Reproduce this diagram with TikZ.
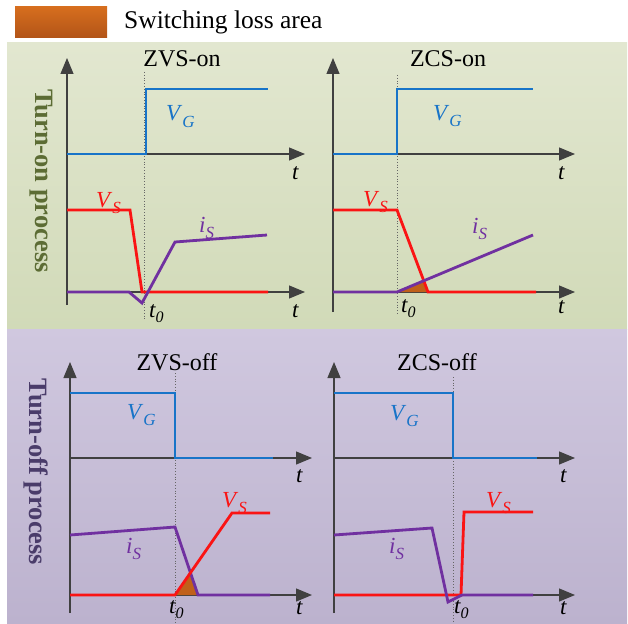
\documentclass[tikz,border=0pt]{standalone}
\usepackage{fontspec}
\setmainfont{Liberation Serif}
\usetikzlibrary{arrows.meta}
\definecolor{sigblue}{RGB}{24,116,200}
\definecolor{sigred}{RGB}{250,20,20}
\definecolor{sigpurple}{RGB}{112,48,160}
\definecolor{axisgray}{RGB}{64,64,64}
\definecolor{lossorange}{RGB}{192,96,26}
\definecolor{greentop}{RGB}{226,231,208}
\definecolor{greenbot}{RGB}{209,218,184}
\definecolor{purptop}{RGB}{208,200,223}
\definecolor{purpbot}{RGB}{188,178,206}
\definecolor{legtop}{RGB}{214,110,30}
\definecolor{legbot}{RGB}{178,84,24}
\definecolor{olivetext}{RGB}{92,108,52}
\definecolor{purptext}{RGB}{74,60,106}
\newcommand\sigl[2]{\textit{#1}\raisebox{-0.3em}{\fontsize{17}{17}\selectfont\textit{#2}}}
\newcommand\tzero{t\raisebox{-0.25em}{\fontsize{16}{16}\selectfont 0}}
\tikzset{
  axisline/.style={draw=axisgray, line width=1.2pt, -{Triangle[length=16pt,width=13pt]}},
  guide/.style={draw=black!60, dotted, line width=0.8pt},
  vgline/.style={draw=sigblue, line width=2.8pt},
  vsline/.style={draw=sigred, line width=2.8pt},
  isline/.style={draw=sigpurple, line width=2.8pt},
  loss/.style={fill=lossorange},
  lab/.style={font=\fontsize{23}{26}\selectfont, inner sep=0pt, anchor=base west},
  tlab/.style={font=\fontsize{23}{26}\selectfont\itshape, inner sep=0pt, anchor=base west},
  ttl/.style={font=\fontsize{24}{28}\selectfont, inner sep=0pt, anchor=base},
  side/.style={font=\fontsize{26.5}{30}\selectfont\bfseries, inner sep=0pt, rotate=-90, anchor=center},
}
\begin{document}
\begin{tikzpicture}[x=1pt,y=-1pt]
\useasboundingbox (0,0) rectangle (628,623);
% backgrounds
\shade[top color=greentop, bottom color=greenbot] (7,43) rectangle (627,329);
\shade[top color=purptop, bottom color=purpbot] (7,329) rectangle (627,623);
% legend
\shade[top color=legtop, bottom color=legbot] (15,7) rectangle (107,38);
\node[font=\fontsize{25.5}{28}\selectfont, inner sep=0pt, anchor=base west] (legtxt) at (124,29) {Switching loss area};
% side labels
\node[side, text=olivetext] (sideon) at (41,181) {Turn-on process};
\node[side, text=purptext] (sideoff) at (36,472) {Turn-off process};

% ================= Panel 1: ZVS-on
\coordinate (a1b) at (67,305); \coordinate (a1t) at (67,58);
\coordinate (u1s) at (67,154); \coordinate (u1e) at (305,154);
\coordinate (l1s) at (67,292); \coordinate (l1e) at (305,292);
\coordinate (d1t) at (144,72); \coordinate (d1b) at (144,320);
\draw[axisline] (a1b) -- (a1t);
\draw[axisline] (u1s) -- (u1e);
\draw[axisline] (l1s) -- (l1e);
\draw[guide] (d1t) -- (d1b);
\draw[vgline] (u1s) -- (146,154) -- (146,89) -- (268,89);
\draw[vsline] (67,210) -- (130,210) -- (142,292) -- (268,292);
\draw[isline] (l1s) -- (129,292) -- (142,303) -- (175,242) -- (267,235);
\node[ttl] (t1) at (182,67) {ZVS-on};
\node[lab, text=sigblue] (vg1) at (166,121) {\sigl{V}{G}};
\node[lab, text=sigred] (vs1) at (96,207) {\sigl{V}{S}};
\node[lab, text=sigpurple] (is1) at (199,232) {\sigl{i}{S}};
\node[tlab] (tu1) at (292,179) {t};
\node[tlab] (tl1) at (292,317) {t};
\node[tlab] (tz1) at (149,317) {\tzero};

% ================= Panel 2: ZCS-on
\coordinate (a2b) at (333,312); \coordinate (a2t) at (333,58);
\coordinate (u2s) at (333,154); \coordinate (u2e) at (575,154);
\coordinate (l2s) at (333,292); \coordinate (l2e) at (575,292);
\coordinate (d2t) at (397,75); \coordinate (d2b) at (397,315);
\coordinate (is2a) at (397,292); \coordinate (is2b) at (533,235);
\coordinate (vs2a) at (397,210); \coordinate (vs2b) at (428,292);
\draw[axisline] (a2b) -- (a2t);
\draw[axisline] (u2s) -- (u2e);
\draw[axisline] (l2s) -- (l2e);
\draw[guide] (d2t) -- (d2b);
\fill[loss] (is2a) -- (intersection of is2a--is2b and vs2a--vs2b) -- (vs2b) -- cycle;
\draw[vgline] (u2s) -- (397,154) -- (397,89) -- (533,89);
\draw[vsline] (333,210) -- (vs2a) -- (vs2b) -- (536,292);
\draw[isline] (l2s) -- (is2a) -- (is2b);
\node[ttl] (t2) at (448,67) {ZCS-on};
\node[lab, text=sigblue] (vg2) at (433,120) {\sigl{V}{G}};
\node[lab, text=sigred] (vs2) at (363,206) {\sigl{V}{S}};
\node[lab, text=sigpurple] (is2) at (472,233) {\sigl{i}{S}};
\node[tlab] (tu2) at (558,179) {t};
\node[tlab] (tl2) at (558,313) {t};
\node[tlab] (tz2) at (401,312) {\tzero};

% ================= Panel 3: ZVS-off
\coordinate (a3b) at (70,613); \coordinate (a3t) at (70,362);
\coordinate (u3s) at (70,458); \coordinate (u3e) at (312,458);
\coordinate (l3s) at (70,595); \coordinate (l3e) at (312,595);
\coordinate (d3t) at (175,373); \coordinate (d3b) at (175,623);
\coordinate (is3a) at (175,527); \coordinate (is3b) at (198,595);
\coordinate (vs3a) at (175,595); \coordinate (vs3b) at (232,513);
\draw[axisline] (a3b) -- (a3t);
\draw[axisline] (u3s) -- (u3e);
\draw[axisline] (l3s) -- (l3e);
\draw[guide] (d3t) -- (d3b);
\fill[loss] (vs3a) -- (intersection of is3a--is3b and vs3a--vs3b) -- (is3b) -- cycle;
\draw[vgline] (70,393) -- (175,393) -- (175,458) -- (273,458);
\draw[isline] (70,535) -- (is3a) -- (is3b) -- (270,595);
\draw[vsline] (l3s) -- (vs3a) -- (vs3b) -- (270,513);
\node[ttl] (t3) at (177,370) {ZVS-off};
\node[lab, text=sigblue] (vg3) at (127,419) {\sigl{V}{G}};
\node[lab, text=sigred] (vs3) at (222,507) {\sigl{V}{S}};
\node[lab, text=sigpurple] (is3) at (126,553) {\sigl{i}{S}};
\node[tlab] (tu3) at (296,482) {t};
\node[tlab] (tl3) at (296,614) {t};
\node[tlab] (tz3) at (169,613) {\tzero};

% ================= Panel 4: ZCS-off
\coordinate (a4b) at (334,613); \coordinate (a4t) at (334,362);
\coordinate (u4s) at (334,458); \coordinate (u4e) at (575,458);
\coordinate (l4s) at (334,595); \coordinate (l4e) at (575,595);
\coordinate (d4t) at (453,377); \coordinate (d4b) at (453,623);
\draw[axisline] (a4b) -- (a4t);
\draw[axisline] (u4s) -- (u4e);
\draw[axisline] (l4s) -- (l4e);
\draw[guide] (d4t) -- (d4b);
\draw[vgline] (334,393) -- (453,393) -- (453,458) -- (537,458);
\draw[vsline] (l4s) -- (461,595) -- (464,512) -- (533,512);
\draw[isline] (334,535) -- (432,528) -- (448,602) -- (462,595) -- (533,595);
\node[ttl] (t4) at (437,370) {ZCS-off};
\node[lab, text=sigblue] (vg4) at (390,420) {\sigl{V}{G}};
\node[lab, text=sigred] (vs4) at (486,507) {\sigl{V}{S}};
\node[lab, text=sigpurple] (is4) at (389,553) {\sigl{i}{S}};
\node[tlab] (tu4) at (560,482) {t};
\node[tlab] (tl4) at (560,614) {t};
\node[tlab] (tz4) at (454,613) {\tzero};
\end{tikzpicture}
\end{document}
